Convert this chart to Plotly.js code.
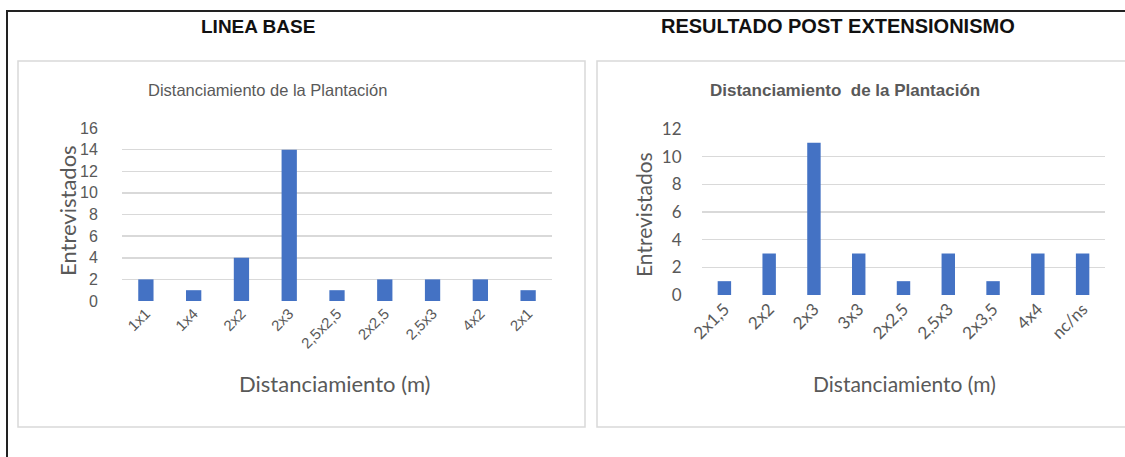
<!DOCTYPE html>
<html>
<head>
<meta charset="utf-8">
<script src="https://cdn.plot.ly/plotly-3.0.1.min.js"></script>
<style>html,body{margin:0;padding:0;background:#fff;}#chart{width:1125px;height:457px;}</style>
</head>
<body>
<div id="chart"></div>
<script>
// ---- Data ----
const mainTitleLeft = "LINEA BASE";
const mainTitleRight = "RESULTADO POST EXTENSIONISMO";
const chartTitleLeft = "Distanciamiento de la Plantación";
const chartTitleRight = "Distanciamiento  de la Plantación";
const yAxisTitle = "Entrevistados";
const xAxisTitle = "Distanciamiento (m)";

const baseCategories = ["1x1", "1x4", "2x2", "2x3", "2,5x2,5", "2x2,5", "2,5x3", "4x2", "2x1"];
const baseValues = [2, 1, 4, 14, 1, 2, 2, 2, 1];

const postCategories = ["2x1,5", "2x2", "2x3", "3x3", "2x2,5", "2,5x3", "2x3,5", "4x4", "nc/ns"];
const postValues = [1, 3, 11, 3, 1, 3, 1, 3, 3];

const baseYTicks = [0, 2, 4, 6, 8, 10, 12, 14, 16];
const postYTicks = [0, 2, 4, 6, 8, 10, 12];

// ---- Layout helpers ----
const W = 1125, H = 457;
const px = x => x / W;
const py = y => 1 - y / H;

const barColor = "#4472c4";
const gridColor = "#d9d9d9";
const textGray = "#595959";
const calibriLike = "Lato, 'Open Sans', sans-serif";
const arialLike = "'Liberation Sans', Arial, sans-serif";

const traces = [
  {type: "bar", x: baseCategories, y: baseValues, xaxis: "x", yaxis: "y",
   marker: {color: barColor}, width: 0.32, hoverinfo: "none"},
  {type: "bar", x: postCategories, y: postValues, xaxis: "x2", yaxis: "y2",
   marker: {color: barColor}, width: 0.3, hoverinfo: "none"}
];

function ann(text, x, y, font, extra) {
  return Object.assign({text: text, xref: "paper", yref: "paper", x: px(x), y: py(y),
    xanchor: "center", yanchor: "middle", showarrow: false, font: font}, extra || {});
}

const layout = {
  width: W, height: H,
  margin: {l: 0, r: 0, t: 0, b: 0},
  paper_bgcolor: "#fff", plot_bgcolor: "rgba(0,0,0,0)",
  showlegend: false,
  xaxis: {domain: [px(122), px(552)], anchor: "y", type: "category",
          tickangle: -45, showgrid: false, zeroline: false, showline: false,
          ticks: "", tickfont: {family: arialLike, size: 15, color: textGray}},
  yaxis: {domain: [py(301), py(128)], anchor: "x", range: [0, 16],
          tickvals: baseYTicks, showgrid: true, gridcolor: gridColor, gridwidth: 1.5,
          zeroline: false, showline: false, ticks: "outside", ticklen: 20,
          tickcolor: "rgba(0,0,0,0)", tickfont: {family: arialLike, size: 16, color: textGray}},
  xaxis2: {domain: [px(702), px(1105)], anchor: "y2", type: "category",
          tickangle: -45, showgrid: false, zeroline: false, showline: false,
          ticks: "", tickfont: {family: calibriLike, size: 17, color: textGray}},
  yaxis2: {domain: [py(295), py(129)], anchor: "x2", range: [0, 12],
          tickvals: postYTicks, showgrid: true, gridcolor: gridColor, gridwidth: 1.5,
          zeroline: false, showline: false, ticks: "outside", ticklen: 16,
          tickcolor: "rgba(0,0,0,0)", tickfont: {family: calibriLike, size: 17, color: textGray}},
  shapes: [
    {type: "path", xref: "paper", yref: "paper",
     path: `M ${px(7)} ${py(457)} L ${px(7)} ${py(11)} L ${px(1125)} ${py(11)}`,
     line: {color: "#222", width: 2}},
    {type: "rect", xref: "paper", yref: "paper", x0: px(18), x1: px(585), y0: py(427), y1: py(61),
     line: {color: "#d9d9d9", width: 1.5}},
    {type: "rect", xref: "paper", yref: "paper", x0: px(597), x1: px(1130), y0: py(427), y1: py(61),
     line: {color: "#d9d9d9", width: 1.5}}
  ],
  annotations: [
    ann("<b>" + mainTitleLeft + "</b>", 258, 26, {family: arialLike, size: 19, color: "#111"}),
    ann("<b>" + mainTitleRight + "</b>", 838, 26, {family: arialLike, size: 20, color: "#111"}),
    ann(chartTitleLeft, 267, 90, {family: arialLike, size: 16.5, color: textGray}),
    ann("<b>" + chartTitleRight.replace("  ", "&nbsp; ") + "</b>", 845, 90, {family: arialLike, size: 17, color: textGray}),
    ann(yAxisTitle, 67, 211, {family: calibriLike, size: 22, color: textGray}, {textangle: -90}),
    ann(yAxisTitle, 643, 215, {family: calibriLike, size: 21, color: textGray}, {textangle: -90}),
    ann(xAxisTitle, 335, 383, {family: calibriLike, size: 22, color: textGray}),
    ann(xAxisTitle, 904, 383, {family: calibriLike, size: 21, color: textGray})
  ]
};

Plotly.newPlot("chart", traces, layout, {staticPlot: true, displayModeBar: false});
</script>
</body>
</html>
